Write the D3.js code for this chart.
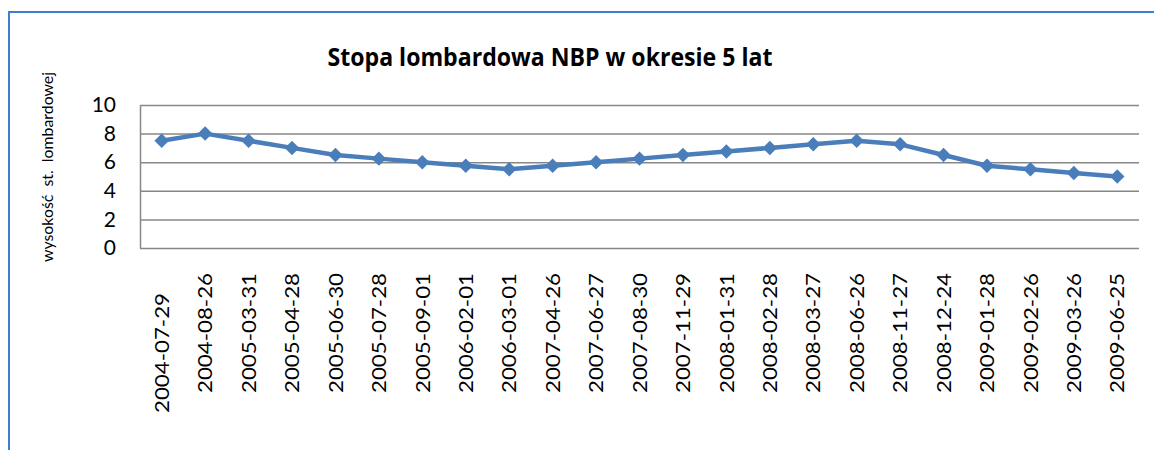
<!DOCTYPE html>
<html>
<head>
<meta charset="utf-8">
<script src="https://cdn.jsdelivr.net/npm/d3@7"></script>
<style>
  body { margin: 0; background: #fff; }
  text { font-family: Lato, "Open Sans", sans-serif; }
</style>
</head>
<body>
<div id="chart"></div>
<script>
// Dane
const dates = ["2004-07-29", "2004-08-26", "2005-03-31", "2005-04-28", "2005-06-30", "2005-07-28",
  "2005-09-01", "2006-02-01", "2006-03-01", "2007-04-26", "2007-06-27", "2007-08-30", "2007-11-29",
  "2008-01-31", "2008-02-28", "2008-03-27", "2008-06-26", "2008-11-27", "2008-12-24", "2009-01-28",
  "2009-02-26", "2009-03-26", "2009-06-25"];
const rates = [7.5, 8.0, 7.5, 7.0, 6.5, 6.25, 6.0, 5.75, 5.5, 5.75, 6.0, 6.25, 6.5, 6.75, 7.0, 7.25,
  7.5, 7.25, 6.5, 5.75, 5.5, 5.25, 5.0];
const yTicks = [0, 2, 4, 6, 8, 10];

const W = 1154, H = 450;
const plot = { left: 140, right: 1139, top: 105, bottom: 248 };

const svg = d3.select("#chart").append("svg")
  .attr("width", W)
  .attr("height", H);

// Ramka wykresu
svg.append("rect")
  .attr("x", 9).attr("y", 12)
  .attr("width", 1300).attr("height", 600)
  .attr("fill", "none")
  .attr("stroke", "#3c7fcc")
  .attr("stroke-width", 2);

const x = d3.scaleBand().domain(dates).range([plot.left, plot.right]);
const y = d3.scaleLinear().domain([0, 10]).range([plot.bottom, plot.top]);
const cx = d => x(d) + x.bandwidth() / 2;

// Linie siatki
svg.append("g")
  .attr("transform", `translate(${plot.left},0)`)
  .call(d3.axisLeft(y).tickValues(yTicks).tickSize(-(plot.right - plot.left)).tickFormat(""))
  .call(g => g.select(".domain").remove())
  .selectAll("line")
  .attr("stroke", "#878787")
  .attr("stroke-width", 1.5);

// Oś y
const yAxis = svg.append("g")
  .attr("transform", `translate(${plot.left},0)`)
  .call(d3.axisLeft(y).tickValues(yTicks).tickSize(0).tickPadding(24));
yAxis.select(".domain").attr("stroke", "#878787").attr("stroke-width", 1.5);
yAxis.selectAll("text")
  .attr("fill", "#000")
  .style("font-size", "21px");

// Etykiety osi x
svg.append("g")
  .selectAll("text")
  .data(dates)
  .join("text")
  .attr("transform", (d, i) => `translate(${cx(d)},${273 + (i === 0 ? 20 : 0)}) rotate(-90)`)
  .attr("text-anchor", "end")
  .attr("dy", "0.36em")
  .attr("textLength", 120)
  .attr("lengthAdjust", "spacingAndGlyphs")
  .style("font-size", "20px")
  .attr("fill", "#000")
  .text(d => d);

// Linia
const line = d3.line()
  .x((d, i) => cx(dates[i]))
  .y(d => y(d));

svg.append("path")
  .datum(rates)
  .attr("fill", "none")
  .attr("stroke", "#4a7ebb")
  .attr("stroke-width", 4.5)
  .attr("stroke-linejoin", "round")
  .attr("d", line);

// Znaczniki
svg.append("g")
  .selectAll("path")
  .data(rates)
  .join("path")
  .attr("transform", (d, i) => `translate(${cx(dates[i])},${y(d)}) rotate(45)`)
  .attr("d", d3.symbol(d3.symbolSquare, 105))
  .attr("fill", "#4a7ebb");

// Tytuł
svg.append("text")
  .attr("x", 550)
  .attr("y", 66)
  .attr("text-anchor", "middle")
  .attr("textLength", 445)
  .attr("lengthAdjust", "spacingAndGlyphs")
  .style("font-family", "'Open Sans', sans-serif")
  .style("font-size", "25px")
  .style("font-weight", "bold")
  .attr("fill", "#000")
  .text("Stopa lombardowa NBP w okresie 5 lat");

// Tytuł osi y
svg.append("text")
  .attr("transform", "translate(47,167) rotate(-90)")
  .attr("text-anchor", "middle")
  .attr("dy", "0.35em")
  .attr("textLength", 190)
  .attr("lengthAdjust", "spacingAndGlyphs")
  .style("font-size", "16px")
  .style("white-space", "pre")
  .attr("fill", "#000")
  .text("wysokość  st.  lombardowej");
</script>
</body>
</html>
